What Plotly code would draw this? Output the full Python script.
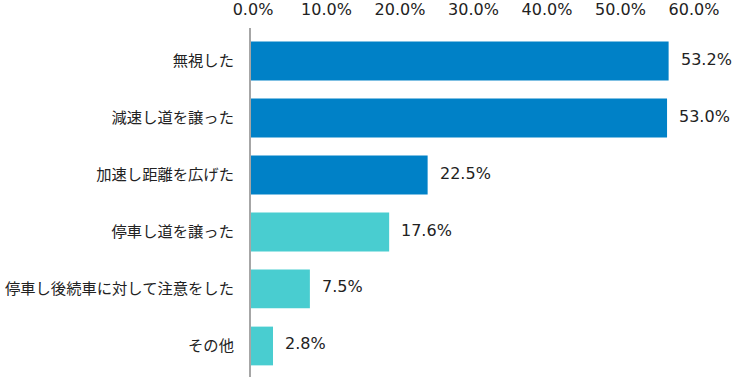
import plotly.graph_objects as go

categories = ["無視した", "減速し道を譲った", "加速し距離を広げた", "停車し道を譲った",
              "停車し後続車に対して注意をした", "その他"]
values = [53.2, 53.0, 22.5, 17.6, 7.5, 2.8]
bar_colors = ["#0081C7", "#0081C7", "#0081C7", "#49CDD0", "#49CDD0", "#49CDD0"]
tick_values = [0, 10, 20, 30, 40, 50, 60]
tick_labels = ["0.0%", "10.0%", "20.0%", "30.0%", "40.0%", "50.0%", "60.0%"]

JP_FONT = "Noto Sans CJK JP"
NUM_FONT = "DejaVu Sans"

fig = go.Figure()
fig.add_trace(go.Bar(
    y=categories, x=values, orientation="h",
    marker=dict(color=bar_colors, line=dict(width=0)),
    hoverinfo="skip", showlegend=False,
))
# invisible trace to carry the top tick axis
fig.add_trace(go.Scatter(
    x=[0], y=[categories[0]], xaxis="x2", mode="markers",
    marker=dict(opacity=0), hoverinfo="skip", showlegend=False,
))

annotations = []
for c, v in zip(categories, values):
    annotations.append(dict(
        x=v, y=c, xref="x", yref="y", text=f"{v:.1f}%",
        showarrow=False, xanchor="left", yanchor="middle",
        xshift=10, yshift=2,
        font=dict(family=NUM_FONT, size=16, color="#222222"),
    ))

fig.update_layout(
    width=735, height=377,
    margin=dict(l=251, r=13, t=28, b=0),
    paper_bgcolor="white", plot_bgcolor="white",
    bargap=0.32,
    annotations=annotations,
    font=dict(family=JP_FONT, color="#222222"),
    xaxis=dict(range=[0, 60], showticklabels=False, showgrid=False,
               zeroline=False, showline=False, fixedrange=True),
    xaxis2=dict(overlaying="x", side="top", anchor="y",
                range=[-0.273, 63.82], tickvals=tick_values, ticktext=tick_labels,
                showgrid=False, zeroline=False, showline=False, ticks="",
                ticklabelstandoff=9,
                tickfont=dict(family=NUM_FONT, size=16, color="#222222")),
    yaxis=dict(type="category", range=[5.544, -0.579], showgrid=False,
               zeroline=False, showline=True, linecolor="#A6A6A6", linewidth=2,
               ticks="", ticklabelstandoff=12,
               tickfont=dict(family=JP_FONT, size=15.3, color="#222222")),
)

fig.write_html("out.html")
